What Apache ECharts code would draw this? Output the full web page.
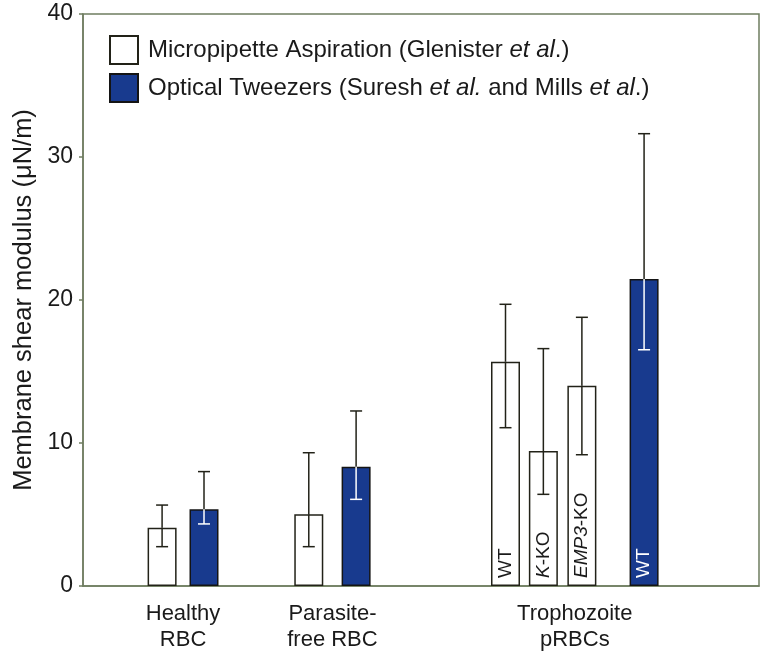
<!DOCTYPE html>
<html>
<head>
<meta charset="utf-8">
<script src="https://cdn.jsdelivr.net/npm/echarts@6/dist/echarts.min.js"></script>
<style>
html,body{margin:0;padding:0;background:#fff;}
#chart{width:761px;height:656px;}
</style>
</head>
<body>
<div id="chart"></div>
<script>
// ---------------- data ----------------
var groupLabels = ["Healthy\nRBC", "Parasite-\nfree RBC", "Trophozoite\npRBCs"];
var yTicks = [0, 10, 20, 30, 40];

// Micropipette Aspiration (white bars)
var mpPos    = [11.7, 33.4, 62.5, 68.1, 73.8];
var mpGroup  = [0, 1, 2, 2, 2];
var mpValue  = [4.08, 5.02, 15.69, 9.44, 14.0];
var mpLow    = [2.75, 2.75, 11.07, 6.41, 9.18];
var mpHigh   = [5.66, 9.32, 19.7, 16.6, 18.79];
var mpLabel  = ["", "", "WT", "{i|K}-KO", "{i|EMP3}-KO"];

// Optical Tweezers (blue bars)
var otPos    = [17.9, 40.4, 83.0];
var otGroup  = [0, 1, 2];
var otValue  = [5.36, 8.34, 21.47];
var otLow    = [4.34, 6.06, 16.52];
var otHigh   = [8.0, 12.24, 31.63];
var otLabel  = ["", "", "WT"];

var seriesNames = ["Micropipette Aspiration (Glenister et al.)",
                   "Optical Tweezers (Suresh et al. and Mills et al.)"];
var legendRich = [
  "{n|Micropipette Aspiration (Glenister }{i|et al}{n|.)}",
  "{n|Optical Tweezers (Suresh }{i|et al.}{n| and Mills }{i|et al}{n|.)}"
];

// ---------------- build ----------------
var FONT = "'Liberation Sans', Arial, Helvetica, sans-serif";
var DARK = "#222218";
var FRAME = "#6f7d60";
var BLUE = "#183a8e";

// group label positions (center of extent of the group's bars)
var groupCenters = groupLabels.map(function (_, g) {
  var xs = [];
  mpPos.forEach(function (p, i) { if (mpGroup[i] === g) xs.push(p); });
  otPos.forEach(function (p, i) { if (otGroup[i] === g) xs.push(p); });
  return (Math.min.apply(null, xs) + Math.max.apply(null, xs)) / 2;
});

function barData(pos, val, labels, color) {
  return pos.map(function (p, i) {
    return {
      value: [p, val[i]],
      label: {
        show: labels[i] !== "",
        formatter: labels[i],
        color: color
      }
    };
  });
}

var errData = [];
mpPos.forEach(function (p, i) { errData.push([p, mpLow[i], mpHigh[i], mpValue[i], 0]); });
otPos.forEach(function (p, i) { errData.push([p, otLow[i], otHigh[i], otValue[i], 1]); });

var barLabelCommon = {
  position: "insideBottom",
  rotate: 90,
  align: "left",
  verticalAlign: "middle",
  distance: 8,
  fontFamily: FONT,
  fontSize: 19,
  rich: {
    i: { fontStyle: "italic", fontFamily: FONT, fontSize: 19 }
  }
};

var chart = echarts.init(document.getElementById("chart"), null, { renderer: "canvas" });
chart.setOption({
  animation: false,
  backgroundColor: "#ffffff",
  textStyle: { fontFamily: FONT },
  grid: {
    left: 83, right: 2, top: 14, bottom: 70,
    show: true, borderColor: FRAME, borderWidth: 1.5, backgroundColor: "transparent"
  },
  legend: {
    orient: "vertical",
    left: 104, top: 30,
    itemWidth: 28, itemHeight: 28, itemGap: 8,
    icon: "rect",
    data: seriesNames,
    selectedMode: false,
    formatter: function (name) { return legendRich[seriesNames.indexOf(name)]; },
    textStyle: {
      padding: [0, 0, 0, 5],
      rich: {
        n: { fontFamily: FONT, fontSize: 24, color: "#1a1a1a" },
        i: { fontFamily: FONT, fontSize: 24, color: "#1a1a1a", fontStyle: "italic" }
      }
    }
  },
  xAxis: {
    type: "value",
    min: 0, max: 100,
    axisLine: { show: true, lineStyle: { color: FRAME, width: 1.5 } },
    axisTick: { show: false },
    splitLine: { show: false },
    axisLabel: {
      customValues: groupCenters,
      formatter: function (v) {
        for (var g = 0; g < groupCenters.length; g++) {
          if (Math.abs(groupCenters[g] - v) < 1e-6) return groupLabels[g];
        }
        return "";
      },
      fontFamily: FONT, fontSize: 22, lineHeight: 26, color: "#1a1a1a", margin: 15
    }
  },
  yAxis: {
    type: "value",
    min: yTicks[0], max: yTicks[yTicks.length - 1], interval: 10,
    name: "Membrane shear modulus (\u03bcN/m)",
    nameLocation: "middle",
    nameRotate: 90,
    nameGap: 46,
    nameTextStyle: { fontFamily: FONT, fontSize: 25.5, color: "#1a1a1a" },
    axisLine: { show: true, lineStyle: { color: FRAME, width: 1.5 } },
    axisTick: { show: true, inside: false, length: 4, lineStyle: { color: FRAME, width: 1.5 } },
    splitLine: { show: false },
    axisLabel: { fontFamily: FONT, fontSize: 23, color: "#1a1a1a", margin: 10 }
  },
  series: [
    {
      name: seriesNames[0],
      type: "bar",
      barWidth: 29,
      barGap: "-100%",
      itemStyle: { color: "#ffffff", borderColor: DARK, borderWidth: 1.5 },
      label: barLabelCommon,
      data: barData(mpPos, mpValue, mpLabel, "#1a1a1a"),
      z: 2
    },
    {
      name: seriesNames[1],
      type: "bar",
      barWidth: 29,
      barGap: "-100%",
      itemStyle: { color: BLUE, borderColor: "#141414", borderWidth: 1.5 },
      label: barLabelCommon,
      data: barData(otPos, otValue, otLabel, "#ffffff"),
      z: 2
    },
    {
      type: "custom",
      z: 5,
      silent: true,
      data: errData,
      renderItem: function (params, api) {
        var x = api.value(0), lo = api.value(1), hi = api.value(2), mean = api.value(3), blue = api.value(4);
        var pHi = api.coord([x, hi]), pLo = api.coord([x, lo]), pM = api.coord([x, mean]);
        var cap = 6;
        var lowColor = blue ? "#ffffff" : DARK;
        var st = function (c) { return { stroke: c, lineWidth: 1.5 }; };
        return {
          type: "group",
          children: [
            { type: "line", shape: { x1: pM[0], y1: pM[1], x2: pHi[0], y2: pHi[1] }, style: st(DARK) },
            { type: "line", shape: { x1: pHi[0] - cap, y1: pHi[1], x2: pHi[0] + cap, y2: pHi[1] }, style: st(DARK) },
            { type: "line", shape: { x1: pM[0], y1: pM[1], x2: pLo[0], y2: pLo[1] }, style: st(lowColor) },
            { type: "line", shape: { x1: pLo[0] - cap, y1: pLo[1], x2: pLo[0] + cap, y2: pLo[1] }, style: st(lowColor) }
          ]
        };
      }
    }
  ]
});
</script>
</body>
</html>
